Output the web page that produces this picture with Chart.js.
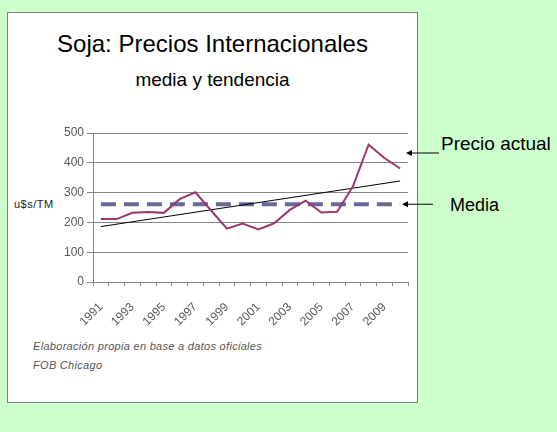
<!DOCTYPE html>
<html>
<head>
<meta charset="utf-8">
<script src="https://cdn.jsdelivr.net/npm/chart.js@4.4.1/dist/chart.umd.min.js"></script>
<style>
  html, body { margin: 0; padding: 0; }
  body { width: 557px; height: 432px; background: #ccffcc; position: relative; overflow: hidden;
         font-family: "Liberation Sans", Arial, sans-serif; }
  .box { position: absolute; left: 7px; top: 12px; width: 411px; height: 391px; box-sizing: border-box;
         background: #fff; border: 1px solid #808080; }
  .txt { position: absolute; white-space: nowrap; line-height: 1; }
  #titulo { left: 7px; width: 411px; top: 32px; text-align: center; font-size: 24px; color: #000; }
  #subtitulo { left: 7px; width: 411px; top: 70px; text-align: center; font-size: 19px; color: #000; }
  #ytitle { left: 14px; top: 199px; font-size: 11px; color: #222; letter-spacing: 0.5px; }
  .nota { left: 33px; font-size: 11px; font-style: italic; color: #555; letter-spacing: 0.3px; }
  #nota1 { top: 341px; }
  #nota2 { top: 360px; }
  #precio { left: 441px; top: 134px; font-size: 19px; color: #000; }
  #media { left: 450px; top: 196px; font-size: 18px; color: #000; }
  #myChart { position: absolute; left: 0; top: 0; }
</style>
</head>
<body>
<div class="box"></div>
<div class="txt" id="titulo">Soja: Precios Internacionales</div>
<div class="txt" id="subtitulo">media y tendencia</div>
<div class="txt" id="ytitle">u$s/TM</div>
<div class="txt nota" id="nota1">Elaboración propia en base a datos oficiales</div>
<div class="txt nota" id="nota2">FOB Chicago</div>
<div class="txt" id="precio">Precio actual</div>
<div class="txt" id="media">Media</div>
<canvas id="myChart" width="557" height="432"></canvas>
<script>
const years = [
  "1991", "1992", "1993", "1994", "1995", "1996", "1997", "1998", "1999", "2000",
  "2001", "2002", "2003", "2004", "2005", "2006", "2007", "2008", "2009", "2010",
];

// precio FOB Chicago, u$s/TM
const precios = [
  211, 211, 232, 235, 232, 278, 301, 240, 179, 196,
  176, 197, 242, 273, 233, 236, 320, 461, 416, 381,
];

// media (linea punteada) y tendencia (recta), extremos
const mediaYears = ["1991", "2010"];
const mediaValues = [261, 261];
const trendYears = ["1991", "2010"];
const trendValues = [186, 339];

const yTicks = [0, 100, 200, 300, 400, 500];

const gridColor = "#868686";
const tickColor = "#595959";

// flechas de las anotaciones
const arrows = {
  id: "arrows",
  afterDraw(chart) {
    const ctx = chart.ctx;
    const yMedia = chart.scales.y.getPixelForValue(mediaValues[0]);
    const list = [
      [439, 153, 406, 153],
      [433, yMedia, 402, yMedia],
    ];
    ctx.save();
    ctx.strokeStyle = "#000";
    ctx.fillStyle = "#000";
    ctx.lineWidth = 1;
    list.forEach(function (a) {
      ctx.beginPath();
      ctx.moveTo(a[0], a[1]);
      ctx.lineTo(a[2] + 5, a[3]);
      ctx.stroke();
      ctx.beginPath();
      ctx.moveTo(a[2], a[3]);
      ctx.lineTo(a[2] + 6, a[3] - 3);
      ctx.lineTo(a[2] + 6, a[3] + 3);
      ctx.closePath();
      ctx.fill();
    });
    ctx.restore();
  },
};

const ctx = document.getElementById("myChart").getContext("2d");
const myChart = new Chart(ctx, {
  type: "line",
  data: {
    labels: years,
    datasets: [
      {
        label: "Precio",
        data: precios,
        borderColor: "#9b3670",
        borderWidth: 2,
        pointRadius: 0,
        tension: 0,
        order: 1,
      },
      {
        label: "Media",
        data: mediaYears.map(function (y, i) { return { x: y, y: mediaValues[i] }; }),
        borderColor: "#686896",
        borderWidth: 4,
        borderDash: [15, 8],
        pointRadius: 0,
        order: 3,
      },
      {
        label: "Tendencia",
        data: trendYears.map(function (y, i) { return { x: y, y: trendValues[i] }; }),
        borderColor: "#000",
        borderWidth: 1,
        pointRadius: 0,
        order: 2,
      },
    ],
  },
  options: {
    responsive: false,
    animation: false,
    layout: {
      padding: { left: 53, right: 149, top: 133, bottom: 100 },
    },
    plugins: {
      legend: { display: false },
      tooltip: { enabled: false },
    },
    scales: {
      x: {
        offset: true,
        grid: {
          offset: true,
          drawOnChartArea: false,
          drawTicks: true,
          tickLength: 4,
          color: gridColor,
        },
        border: { color: gridColor },
        ticks: {
          autoSkip: false,
          maxRotation: 45,
          minRotation: 45,
          padding: 14,
          color: tickColor,
          font: { family: "Liberation Sans", size: 12 },
          callback: function (value, index) {
            return index % 2 === 0 ? years[index] : "";
          },
        },
        afterFit: function (scale) { scale.height = 50; },
      },
      y: {
        min: 0,
        max: 500,
        afterBuildTicks: function (scale) {
          scale.ticks = yTicks.map(function (v) { return { value: v }; });
        },
        grid: {
          color: gridColor,
          tickLength: 6,
        },
        border: { color: gridColor },
        ticks: {
          padding: 3,
          color: tickColor,
          font: { family: "Liberation Sans", size: 12 },
        },
        afterFit: function (scale) { scale.width = 40; },
      },
    },
  },
  plugins: [arrows],
});
</script>
</body>
</html>
